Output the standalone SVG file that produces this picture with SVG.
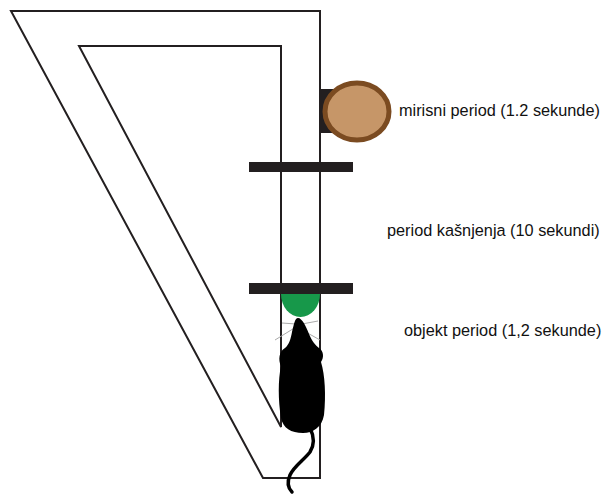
<svg xmlns="http://www.w3.org/2000/svg" width="610" height="499" viewBox="0 0 610 499">
<style>
.wall{fill:none;stroke:#231f20;stroke-width:2;stroke-linejoin:miter}
.bar{fill:#231f20}
.lbl{font-family:"Liberation Sans",Arial,sans-serif;font-size:16.3px;fill:#111}
.wh{stroke:#aaa;stroke-width:1;fill:none}
</style>
<rect width="610" height="499" fill="#fff"/>
<g id="maze">
<path class="wall" d="M11,11 L320,11 L320,478 L263,478 Z"/>
<path class="wall" d="M79,46 L281,46 L281,427 Z"/>
</g>
<g id="odor-cup">
<rect x="320" y="89" width="16" height="44" fill="#231f20"/>
<ellipse cx="357" cy="111.5" rx="32" ry="28.5" fill="#c69668" stroke="#7b4b21" stroke-width="5"/>
</g>
<g id="gates">
<rect class="bar" x="249" y="162" width="104" height="10"/>
<rect class="bar" x="249" y="283" width="104" height="11"/>
</g>
<g id="object">
<path d="M281,294 L320,294 A19.5,23 0 0 1 281,294 Z" fill="#17984a"/>
</g>
<g id="mouse">
<path class="wh" d="M296,327 L275,340 M296,324 L282,323 M302,324 L318,321 M304,331 L320,340"/>
<path d="M298,318 C302,318 306,326 309,334 C312,341 315,345 319,348 C324,351 324,358 321,362 C325,375 326,395 324,415 C322,427 313,433 303,433 C291,433 283,428 281,418 C278,400 278,380 281,366 C278,360 279,351 285,348 C289,345 291,338 292,332 C294,324 295,318 298,318 Z" fill="#000"/>
<path d="M310,428 C314,436 315,444 310,452 C304,460 294,466 290,475 C287,482 288,488 292,492" fill="none" stroke="#000" stroke-width="3.5" stroke-linecap="round"/>
</g>
<g id="labels">
<text class="lbl" x="399" y="116">mirisni period (1.2 sekunde)</text>
<text class="lbl" x="387" y="236">period kašnjenja (10 sekundi)</text>
<text class="lbl" x="404" y="336">objekt period (1,2 sekunde)</text>
</g>
</svg>
